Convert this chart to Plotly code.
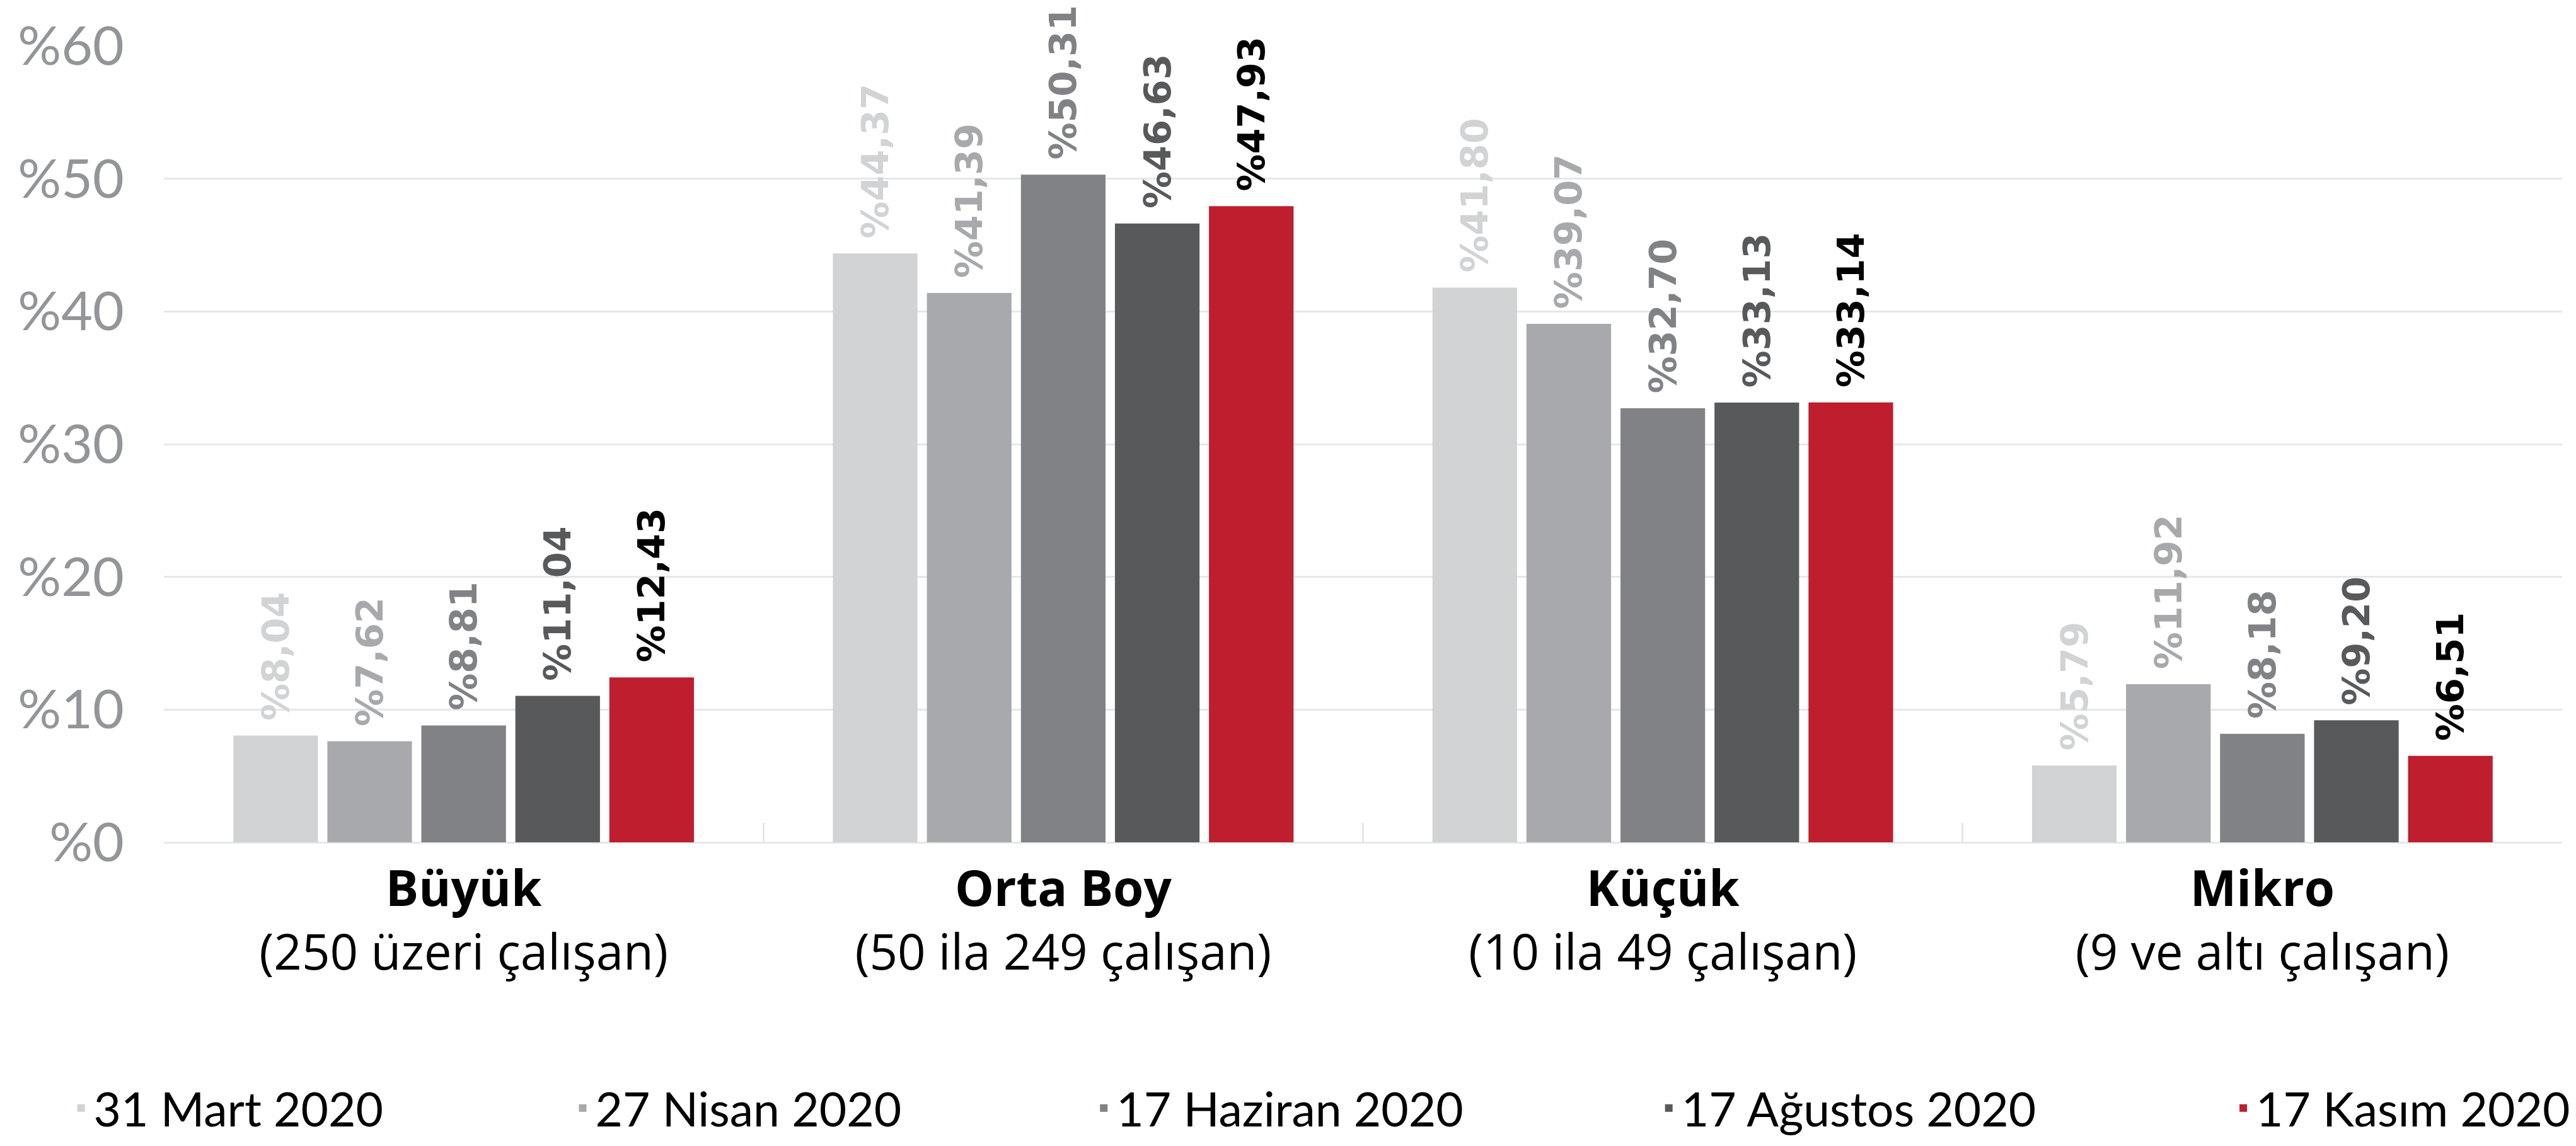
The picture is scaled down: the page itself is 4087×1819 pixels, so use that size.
import plotly.graph_objects as go

categories = ["Büyük", "Orta Boy", "Küçük", "Mikro"]
subtitles = ["(250 üzeri çalışan)", "(50 ila 249 çalışan)", "(10 ila 49 çalışan)", "(9 ve altı çalışan)"]
series_names = ["31 Mart 2020", "27 Nisan 2020", "17 Haziran 2020", "17 Ağustos 2020", "17 Kasım 2020"]
mart = [8.04, 44.37, 41.80, 5.79]
nisan = [7.62, 41.39, 39.07, 11.92]
haziran = [8.81, 50.31, 32.70, 8.18]
agustos = [11.04, 46.63, 33.13, 9.20]
kasim = [12.43, 47.93, 33.14, 6.51]
series_values = [mart, nisan, haziran, agustos, kasim]
bar_colors = ["#D1D3D4", "#A7A9AC", "#808285", "#58595B", "#BE1E2D"]
label_colors = ["#D1D3D4", "#A7A9AC", "#808285", "#58595B", "#000000"]
y_ticks = [0, 10, 20, 30, 40, 50, 60]
y_ticktext = ["%0", "%10", "%20", "%30", "%40", "%50", "%60"]

W, H = 4087, 1819
ML, MR, MT, MB = 252, 15, 65, 481
PH = H - MT - MB
PW = W - ML - MR

legend_text_px = [100, 899, 1729, 2629, 3544]

fig = go.Figure()
legend_ids = ["legend", "legend2", "legend3", "legend4", "legend5"]
for name, vals, bc, lc, lid in zip(series_names, series_values, bar_colors, label_colors, legend_ids):
    fig.add_trace(go.Bar(
        x=categories, y=vals, name=name,
        marker=dict(color=bc, line=dict(width=0)),
        texttemplate="\u00a0%%{y:.2f}",
        textposition="outside", textangle=-90,
        constraintext="none", cliponaxis=False,
        outsidetextfont=dict(family="DejaVu Sans", size=59, color=lc, weight="bold"),
        hoverinfo="skip",
        legend=lid,
    ))

ticktext = [f"<b>{c}</b><br>{s}" for c, s in zip(categories, subtitles)]

legend_layout = {}
for lid, px in zip(legend_ids, legend_text_px):
    legend_layout[lid] = dict(
        orientation="h", x=(px - ML) / PW, xanchor="left",
        y=-MB / PH, yanchor="bottom",
        font=dict(family="Lato", size=75, color="#000000"),
        bgcolor="rgba(0,0,0,0)",
    )

fig.update_layout(
    width=W, height=H,
    barmode="group", bargap=0.216, bargroupgap=0.1,
    separators=",.",
    plot_bgcolor="white", paper_bgcolor="white",
    margin=dict(l=ML, r=MR, t=MT, b=MB),
    font=dict(family="Lato", color="#000000"),
    showlegend=True,
    xaxis=dict(
        tickmode="array", tickvals=categories, ticktext=ticktext,
        tickson="boundaries", ticks="inside", ticklen=31, tickwidth=3, tickcolor="#E6E7E8",
        tickfont=dict(family="Open Sans", size=78, color="#000000"),
        ticklabelstandoff=22,
        showline=False, showgrid=False, automargin=False,
    ),
    yaxis=dict(
        range=[0, 60], tickmode="array", tickvals=y_ticks, ticktext=y_ticktext,
        tickfont=dict(family="Lato", size=86, color="#939598"),
        gridcolor="#E6E7E8", gridwidth=3,
        zeroline=True, zerolinecolor="#E6E7E8", zerolinewidth=3,
        showline=False, ticks="", ticklabelstandoff=62, automargin=False,
    ),
    **legend_layout,
)

fig.write_html("out.html")
